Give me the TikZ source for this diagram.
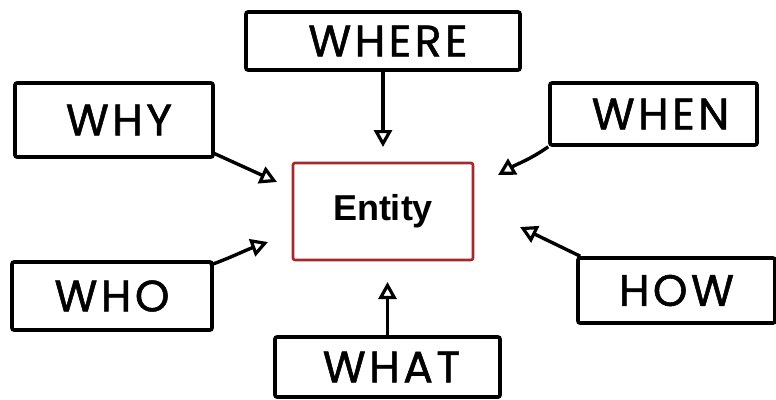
\documentclass[tikz,border=0pt]{standalone}
\usepackage{fontspec}
\setmainfont{Poppins}[LetterSpace=8,FakeBold=1.2]
\newfontfamily\entityfont{Liberation Sans}
\usetikzlibrary{arrows.meta}
\definecolor{entred}{RGB}{165,40,45}
\begin{document}
\begin{tikzpicture}[x=1pt,y=-1pt,
  qbox/.style={draw=black, line width=3.6pt, rounded corners=2pt, inner sep=0pt,
    font=\fontsize{44}{48}\selectfont},
  qarrow/.style={line width=3.4pt,
    -{Triangle[open, length=17pt, width=18pt, line width=3.2pt]}},
  entbox/.style={draw=entred, line width=2.6pt, rounded corners=2pt, inner sep=0pt,
    font=\entityfont\bfseries\fontsize{36}{40}\selectfont}
  ]
\useasboundingbox (0,0) rectangle (776,399);
\fill[white] (0,0) rectangle (776,399);

\node[qbox, minimum width=274pt, minimum height=58pt] (where) at (383,41) {\hspace{10pt}WHERE};
\node[qbox, minimum width=198pt, minimum height=74pt] (why) at (114,120) {\hspace{10pt}WHY};
\node[qbox, minimum width=207pt, minimum height=62pt] (when) at (653.5,114) {\hspace{14pt}WHEN};
\node[qbox, minimum width=200pt, minimum height=68pt] (who) at (112,296) {WHO};
\node[qbox, minimum width=197pt, minimum height=65pt] (how) at (676.5,290.5) {HOW};
\node[qbox, minimum width=225pt, minimum height=60pt] (what) at (387.5,367) {\hspace{8pt}WHAT};
\node[entbox, minimum width=180pt, minimum height=97pt] (entity) at (383,211.5) {Entity};

\coordinate (whereTip) at (383,147);
\coordinate (whyTip) at (277,182);
\coordinate (whenTip) at (498,175);
\coordinate (whoTip) at (268,242);
\coordinate (howTip) at (520,227);
\coordinate (whatTip) at (387.5,282);

\draw[qarrow] (where.south) -- (whereTip);
\draw[qarrow] ([shift={(-2,-6)}]why.south east) -- (whyTip);
\draw[qarrow] (when.south west) to[out=215,in=30] (whenTip);
\draw[qarrow] ([shift={(-4,5)}]who.north east) to[out=20,in=200] (whoTip);
\draw[qarrow] ([shift={(4,0)}]how.north west) -- (howTip);
\draw[qarrow] (what.north) -- (whatTip);
\end{tikzpicture}
\end{document}
